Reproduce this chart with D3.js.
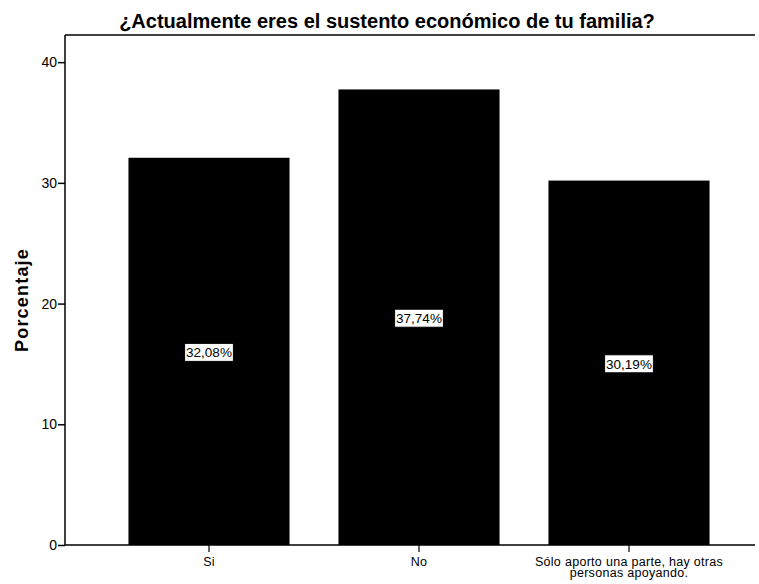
<!DOCTYPE html>
<html>
<head>
<meta charset="utf-8">
<script src="https://cdn.jsdelivr.net/npm/d3@7"></script>
<style>
  body { margin: 0; background: #fff; }
  text { font-family: "Liberation Sans", Arial, sans-serif; }
</style>
</head>
<body>
<svg id="chart" width="759" height="584"></svg>
<script>
const titleText = "¿Actualmente eres el sustento económico de tu familia?";
const yAxisLabel = "Porcentaje";
const categories = ["Si", "No", "Sólo aporto una parte, hay otras personas apoyando."];
const categoryLines = [["Si"], ["No"], ["Sólo aporto una parte, hay otras", "personas apoyando."]];
const values = [32.08, 37.74, 30.19];
const valueLabels = ["32,08%", "37,74%", "30,19%"];
const yTicks = [0, 10, 20, 30, 40];

(function () {
const svg = d3.select("#chart");
const pLeft = 65, pRight = 755, pTop = 35, pBottom = 545;

const y = d3.scaleLinear().domain([0, 42.25]).range([pBottom, pTop]);
const x = d3.scaleBand().domain(categories).range([104, 734])
  .paddingInner(0.233).paddingOuter(0.1165);

// title
svg.append("text").attr("x", 387).attr("y", 28).attr("text-anchor", "middle")
  .attr("font-size", 20).attr("font-weight", "bold").text(titleText);

// top frame line
svg.append("line").attr("x1", pLeft).attr("x2", pRight).attr("y1", pTop).attr("y2", pTop)
  .attr("stroke", "#000").attr("stroke-width", 1.5);

// bars
svg.selectAll("rect.bar").data(values).join("rect").attr("class", "bar")
  .attr("x", (d, i) => x(categories[i]))
  .attr("width", x.bandwidth())
  .attr("y", d => y(d))
  .attr("height", d => y(0) - y(d))
  .attr("fill", "#000");

// y axis
const yAxis = svg.append("g").attr("transform", `translate(${pLeft},0)`)
  .call(d3.axisLeft(y).tickValues(yTicks).tickSize(7).tickPadding(1).tickFormat(d3.format("d")));
yAxis.attr("font-size", 14).attr("font-family", "Liberation Sans, Arial, sans-serif");
yAxis.select(".domain").attr("stroke-width", 1.5).attr("d", `M0,${pTop}V${pBottom}`);
yAxis.selectAll(".tick line").attr("stroke-width", 1.5);
yAxis.selectAll("text").style("font-size", "14px");

// x axis
const xAxis = svg.append("g").attr("transform", `translate(0,${pBottom})`)
  .call(d3.axisBottom(x).tickSize(7).tickFormat(""));
xAxis.select(".domain").attr("stroke-width", 1.5).attr("d", `M${pLeft},0H${pRight}`);
xAxis.selectAll(".tick line").attr("stroke-width", 1.2);

// x labels
categories.forEach((c, i) => {
  const cx = x(c) + x.bandwidth() / 2;
  const t = svg.append("text").attr("x", cx).attr("y", 566)
    .attr("text-anchor", "middle").attr("font-size", 12.5).attr("letter-spacing", 0.3);
  categoryLines[i].forEach((ln, j) => {
    t.append("tspan").attr("x", cx).attr("dy", j === 0 ? 0 : 11).text(ln);
  });
});

// y label
svg.append("text").attr("transform", `translate(28,300) rotate(-90)`)
  .attr("text-anchor", "middle").attr("font-size", 18).attr("font-weight", "bold")
  .attr("letter-spacing", 1.2).text(yAxisLabel);

// value labels
values.forEach((v, i) => {
  const cx = x(categories[i]) + x.bandwidth() / 2;
  const cy = (y(v) + y(0)) / 2 + 1;
  const g = svg.append("g");
  const t = g.append("text").attr("x", cx).attr("y", cy + 5).attr("text-anchor", "middle")
    .attr("font-size", 13.5).text(valueLabels[i]);
  const bb = t.node().getBBox();
  g.insert("rect", "text").attr("x", bb.x - 1.5).attr("y", cy - 9).attr("width", bb.width + 3)
    .attr("height", 18).attr("fill", "#fff").attr("stroke", "#000").attr("stroke-width", 1);
});
})();
</script>
</body>
</html>
